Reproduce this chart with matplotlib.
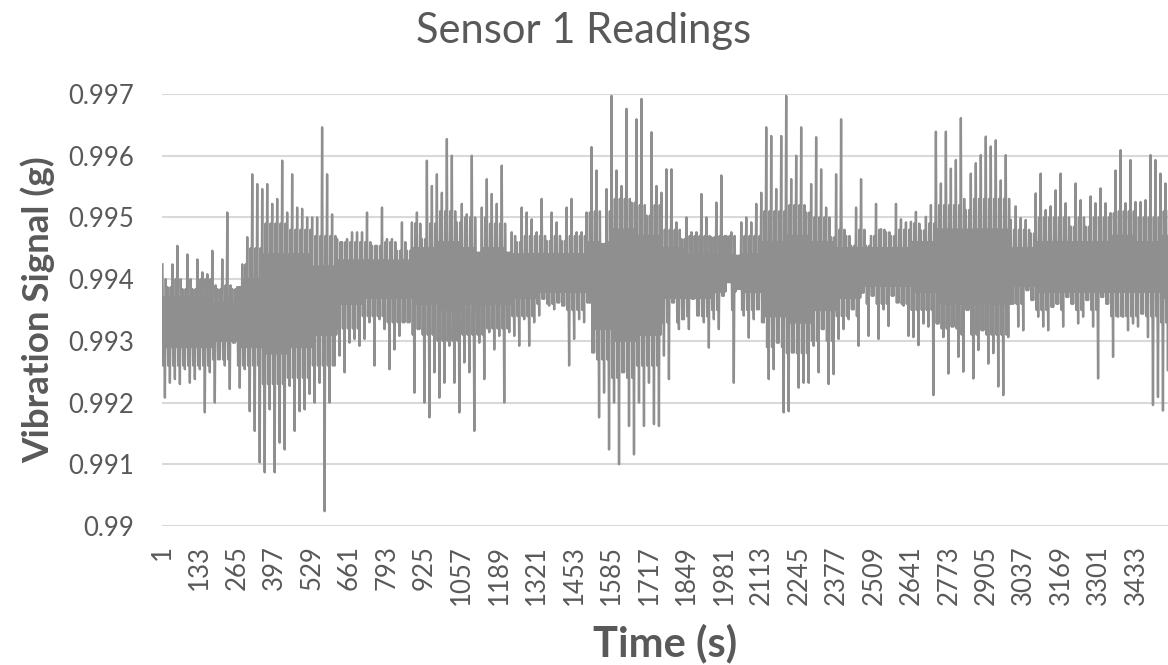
import numpy as np
import matplotlib
matplotlib.use("Agg")
import matplotlib.pyplot as plt

# envelope of the sensor trace
# (highest and lowest reading in each ~18-sample window)
sig_hi = [
    0.99424, 0.99387, 0.99424, 0.99454, 0.99384, 0.9944, 0.99384, 0.99432, 0.99411, 0.99408,
    0.99446, 0.99384, 0.99432, 0.99508, 0.99384, 0.99387, 0.99424, 0.99468, 0.9957, 0.99554,
    0.99546, 0.99554, 0.99522, 0.9953, 0.99592, 0.99508, 0.9957, 0.99516, 0.99514, 0.995,
    0.995, 0.995, 0.99646, 0.9957, 0.99505, 0.99465, 0.9946, 0.99465, 0.99476, 0.99476,
    0.99476, 0.99508, 0.99454, 0.99454, 0.99516, 0.99465, 0.99465, 0.99446, 0.99492, 0.99446,
    0.99492, 0.99508, 0.99465, 0.99592, 0.99551, 0.9957, 0.9954, 0.99627, 0.996, 0.99492,
    0.99522, 0.99505, 0.996, 0.99443, 0.99516, 0.99562, 0.99538, 0.99522, 0.99584, 0.99443,
    0.99476, 0.9946, 0.99516, 0.99508, 0.99497, 0.99476, 0.9953, 0.99462, 0.99508, 0.99492,
    0.99462, 0.99516, 0.9953, 0.99476, 0.99476, 0.99508, 0.99614, 0.99576, 0.99457, 0.99546,
    0.99697, 0.99576, 0.99551, 0.99676, 0.99524, 0.99659, 0.99692, 0.99503, 0.99638, 0.99551,
    0.9954, 0.99578, 0.99578, 0.99492, 0.99465, 0.995, 0.99476, 0.99476, 0.99538, 0.995,
    0.99468, 0.99524, 0.99568, 0.9947, 0.99476, 0.99438, 0.99492, 0.995, 0.99492, 0.99522,
    0.9954, 0.99646, 0.99632, 0.99546, 0.99632, 0.99697, 0.99562, 0.996, 0.99646, 0.99508,
    0.99554, 0.9963, 0.99578, 0.99516, 0.99468, 0.9957, 0.99659, 0.9947, 0.99454, 0.99516,
    0.99562, 0.99454, 0.9947, 0.99522, 0.99481, 0.99476, 0.9947, 0.99522, 0.99497, 0.99492,
    0.99493, 0.99509, 0.99479, 0.99501, 0.9952, 0.99639, 0.99555, 0.99639, 0.99579, 0.99593,
    0.99661, 0.99512, 0.99571, 0.99588, 0.99601, 0.99631, 0.99615, 0.99625, 0.9956, 0.99601,
    0.99496, 0.99518, 0.99499, 0.99496, 0.99474, 0.99539, 0.99571, 0.99512, 0.99518, 0.99544,
    0.99571, 0.99523, 0.99485, 0.99555, 0.99528, 0.99485, 0.99534, 0.99523, 0.99547, 0.99523,
    0.99507, 0.99576, 0.99609, 0.99523, 0.99593, 0.99525, 0.99525, 0.99528, 0.99601, 0.99593,
    0.99571, 0.99555,
]
sig_lo = [
    0.99208, 0.99232, 0.99238, 0.9923, 0.99254, 0.99232, 0.99238, 0.99254, 0.99184, 0.99249,
    0.992, 0.9927, 0.9926, 0.99222, 0.99297, 0.99224, 0.99254, 0.99186, 0.99154, 0.99103,
    0.99087, 0.99189, 0.99087, 0.99135, 0.99124, 0.99227, 0.99154, 0.99186, 0.99189, 0.99214,
    0.992, 0.99232, 0.99024, 0.992, 0.9926, 0.99276, 0.99249, 0.99297, 0.99303, 0.99292,
    0.99303, 0.9933, 0.9926, 0.99335, 0.99319, 0.99254, 0.99286, 0.99308, 0.9933, 0.9933,
    0.99216, 0.99319, 0.992, 0.99176, 0.99249, 0.99208, 0.99232, 0.99292, 0.99232, 0.99184,
    0.99265, 0.99249, 0.99154, 0.99297, 0.99238, 0.99314, 0.99286, 0.99308, 0.992, 0.99314,
    0.99308, 0.99292, 0.99335, 0.99292, 0.9933, 0.99341, 0.99368, 0.99357, 0.99351, 0.99362,
    0.99357, 0.9926, 0.99303, 0.99335, 0.9933, 0.99362, 0.99281, 0.99176, 0.99216, 0.99124,
    0.992, 0.991, 0.99249, 0.99162, 0.99116, 0.992, 0.99162, 0.99232, 0.99165, 0.99162,
    0.99276, 0.99238, 0.99362, 0.99319, 0.99335, 0.99319, 0.99368, 0.99341, 0.9933, 0.99289,
    0.99335, 0.99319, 0.99373, 0.99395, 0.99232, 0.99384, 0.99341, 0.99305, 0.99335, 0.99351,
    0.9933, 0.99238, 0.99254, 0.99297, 0.99184, 0.99186, 0.99281, 0.99224, 0.99232, 0.99232,
    0.99292, 0.99249, 0.99319, 0.9923, 0.99246, 0.99303, 0.99319, 0.99335, 0.99351, 0.99292,
    0.99378, 0.99308, 0.99373, 0.99303, 0.99351, 0.99324, 0.99373, 0.99362, 0.99357, 0.99308,
    0.99306, 0.99293, 0.99328, 0.99323, 0.99212, 0.99328, 0.99306, 0.99247, 0.99323, 0.99274,
    0.9925, 0.9935, 0.99239, 0.99285, 0.99317, 0.99263, 0.9928, 0.99226, 0.99212, 0.99306,
    0.9936, 0.99323, 0.99317, 0.99382, 0.99366, 0.99339, 0.99323, 0.99317, 0.99355, 0.9936,
    0.99323, 0.99371, 0.9936, 0.99328, 0.99339, 0.99366, 0.99323, 0.99239, 0.99371, 0.9936,
    0.99274, 0.99339, 0.99339, 0.99317, 0.99328, 0.99323, 0.99344, 0.99306, 0.99196, 0.99209,
    0.99187, 0.99252,
]
# bands where the trace is half filled (outer) and solid (inner), one value per 5 envelope columns
outer_lo = [0.9926, 0.9926, 0.9927, 0.9926, 0.9923, 0.9924, 0.9926, 0.9932, 0.9934, 0.9933,
            0.9931, 0.9930, 0.9931, 0.9932, 0.9934, 0.9936, 0.9935, 0.9927, 0.9924, 0.9926,
            0.9933, 0.9934, 0.9935, 0.9935, 0.9929, 0.9928, 0.9930, 0.9934, 0.9936, 0.9936,
            0.9935, 0.9932, 0.9931, 0.9931, 0.9936, 0.9935, 0.9935, 0.9935, 0.9934, 0.9934,
            0.9933]
outer_hi = [0.9940, 0.9940, 0.9939, 0.9945, 0.9949, 0.9948, 0.9947, 0.9946, 0.9946, 0.9946,
            0.9949, 0.9951, 0.9950, 0.9949, 0.9947, 0.9947, 0.9947, 0.9951, 0.9953, 0.9952,
            0.9948, 0.9947, 0.9947, 0.9947, 0.9951, 0.9952, 0.9950, 0.9948, 0.9948, 0.9948,
            0.9949, 0.9952, 0.9953, 0.9953, 0.9948, 0.9950, 0.9950, 0.9950, 0.9951, 0.9950,
            0.9951]
inner_lo = [0.9929, 0.9929, 0.9930, 0.9929, 0.9928, 0.9929, 0.9931, 0.9936, 0.9937, 0.9937,
            0.9936, 0.9935, 0.9936, 0.9936, 0.9937, 0.9938, 0.9938, 0.9932, 0.9930, 0.9931,
            0.9937, 0.9937, 0.9938, 0.9938, 0.9934, 0.9933, 0.9935, 0.9937, 0.9939, 0.9939,
            0.9938, 0.9936, 0.9936, 0.9936, 0.9939, 0.9938, 0.9938, 0.9938, 0.9938, 0.9938,
            0.9937]
inner_hi = [0.9937, 0.9937, 0.9936, 0.9940, 0.9944, 0.9944, 0.9942, 0.9943, 0.9943, 0.9943,
            0.9945, 0.9946, 0.9945, 0.9945, 0.9944, 0.9944, 0.9944, 0.9946, 0.9948, 0.9947,
            0.9945, 0.9944, 0.9944, 0.9944, 0.9946, 0.9947, 0.9946, 0.9945, 0.9945, 0.9945,
            0.9946, 0.9948, 0.9948, 0.9948, 0.9945, 0.9946, 0.9946, 0.9946, 0.9947, 0.9946,
            0.9947]
x_ticks = list(range(1, 3434, 132))
y_ticks = [0.99, 0.991, 0.992, 0.993, 0.994, 0.995, 0.996, 0.997]
y_labels = ['0.99', '0.991', '0.992', '0.993', '0.994', '0.995', '0.996', '0.997']
sample_step = 2.93         # seconds between the decimated samples

signal = []
for j in range(len(sig_hi)):
    k = j // 5
    lo, hi = sig_lo[j], sig_hi[j]
    o_lo = min(max(outer_lo[k], lo), hi)
    o_hi = min(max(outer_hi[k], lo), hi)
    i_lo = min(max(inner_lo[k], lo), hi)
    i_hi = min(max(inner_hi[k], lo), hi)
    signal += [hi, o_lo, i_hi, lo, o_hi, i_lo]
signal = np.array(signal)
t = 1 + (np.arange(len(signal)) + 0.5) * sample_step

plt.rcParams['font.family'] = ['Lato', 'DejaVu Sans']
txt = '#595959'

fig = plt.figure(figsize=(11.68, 6.65), dpi=100)
ax = fig.add_axes([162/1168, 139/665, 1006/1168, 432/665])
ax.plot(t, signal, color='#8f8f8f', lw=1.7)

ax.set_xlim(1, 3545)
ax.set_ylim(0.99, 0.997)
ax.set_yticks(y_ticks)
ax.set_yticklabels(y_labels)
ax.set_xticks(x_ticks)
ax.set_xticklabels([str(v) for v in x_ticks], rotation=90)
ax.tick_params(axis='both', length=0, colors=txt, labelsize=18.5)
ax.tick_params(axis='y', pad=20)
ax.tick_params(axis='x', pad=14)
ax.grid(axis='y', color='#d9d9d9', lw=1.5)
ax.set_axisbelow(True)
for s in ax.spines.values():
    s.set_visible(False)

fig.text(0.5, 1 - 31/665, 'Sensor 1 Readings', color=txt, fontsize=30,
         ha='center', va='center')
ax.set_ylabel('Vibration Signal (g)', color=txt, fontsize=26.5, fontweight='bold')
ax.yaxis.set_label_coords(-0.106, 0.5)
ax.set_xlabel('Time (s)', color=txt, fontsize=30, fontweight='bold', va='bottom')
ax.xaxis.set_label_coords(0.5, -137/432)

fig.savefig('out.png', dpi=100)
